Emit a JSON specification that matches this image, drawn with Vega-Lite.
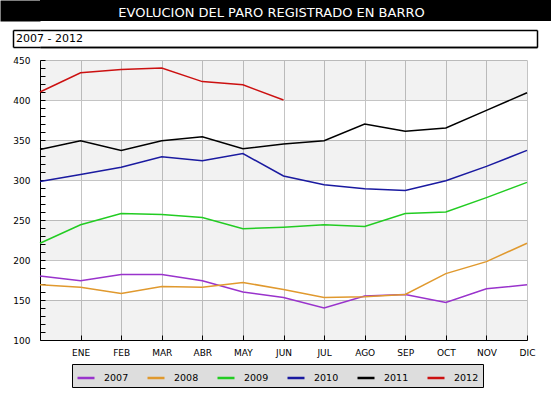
{
  "$schema": "https://vega.github.io/schema/vega-lite/v6.json",
  "background": "white",
  "padding": 0,
  "config": {"font": "DejaVu Sans", "view": {"stroke": null}},
  "datasets": {
    "bands": [{"lo": 400, "hi": 450}, {"lo": 300, "hi": 350}, {"lo": 200, "hi": 250}, {"lo": 100, "hi": 150}],
    "series": [
      {"year": "2007", "m": 0, "v": 180}, {"year": "2007", "m": 1, "v": 174}, {"year": "2007", "m": 2, "v": 182}, {"year": "2007", "m": 3, "v": 182}, {"year": "2007", "m": 4, "v": 174}, {"year": "2007", "m": 5, "v": 160}, {"year": "2007", "m": 6, "v": 153}, {"year": "2007", "m": 7, "v": 140}, {"year": "2007", "m": 8, "v": 155}, {"year": "2007", "m": 9, "v": 157}, {"year": "2007", "m": 10, "v": 147}, {"year": "2007", "m": 11, "v": 164}, {"year": "2007", "m": 12, "v": 169},
      {"year": "2008", "m": 0, "v": 169}, {"year": "2008", "m": 1, "v": 166}, {"year": "2008", "m": 2, "v": 158}, {"year": "2008", "m": 3, "v": 167}, {"year": "2008", "m": 4, "v": 166}, {"year": "2008", "m": 5, "v": 172}, {"year": "2008", "m": 6, "v": 163}, {"year": "2008", "m": 7, "v": 153}, {"year": "2008", "m": 8, "v": 154}, {"year": "2008", "m": 9, "v": 157}, {"year": "2008", "m": 10, "v": 183}, {"year": "2008", "m": 11, "v": 198}, {"year": "2008", "m": 12, "v": 221},
      {"year": "2009", "m": 0, "v": 221}, {"year": "2009", "m": 1, "v": 244}, {"year": "2009", "m": 2, "v": 258}, {"year": "2009", "m": 3, "v": 257}, {"year": "2009", "m": 4, "v": 253}, {"year": "2009", "m": 5, "v": 239}, {"year": "2009", "m": 6, "v": 241}, {"year": "2009", "m": 7, "v": 244}, {"year": "2009", "m": 8, "v": 242}, {"year": "2009", "m": 9, "v": 258}, {"year": "2009", "m": 10, "v": 260}, {"year": "2009", "m": 11, "v": 278}, {"year": "2009", "m": 12, "v": 297},
      {"year": "2010", "m": 0, "v": 298}, {"year": "2010", "m": 1, "v": 307}, {"year": "2010", "m": 2, "v": 316}, {"year": "2010", "m": 3, "v": 329}, {"year": "2010", "m": 4, "v": 324}, {"year": "2010", "m": 5, "v": 333}, {"year": "2010", "m": 6, "v": 305}, {"year": "2010", "m": 7, "v": 294}, {"year": "2010", "m": 8, "v": 289}, {"year": "2010", "m": 9, "v": 287}, {"year": "2010", "m": 10, "v": 299}, {"year": "2010", "m": 11, "v": 317}, {"year": "2010", "m": 12, "v": 337},
      {"year": "2011", "m": 0, "v": 338}, {"year": "2011", "m": 1, "v": 349}, {"year": "2011", "m": 2, "v": 337}, {"year": "2011", "m": 3, "v": 349}, {"year": "2011", "m": 4, "v": 354}, {"year": "2011", "m": 5, "v": 339}, {"year": "2011", "m": 6, "v": 345}, {"year": "2011", "m": 7, "v": 349}, {"year": "2011", "m": 8, "v": 370}, {"year": "2011", "m": 9, "v": 361}, {"year": "2011", "m": 10, "v": 365}, {"year": "2011", "m": 11, "v": 387}, {"year": "2011", "m": 12, "v": 409},
      {"year": "2012", "m": 0, "v": 410}, {"year": "2012", "m": 1, "v": 434}, {"year": "2012", "m": 2, "v": 438}, {"year": "2012", "m": 3, "v": 440}, {"year": "2012", "m": 4, "v": 423}, {"year": "2012", "m": 5, "v": 419}, {"year": "2012", "m": 6, "v": 400}
    ]
  },
  "spacing": 8,
  "vconcat": [
    {
      "width": 511,
      "height": 21,
      "view": {"fill": "black", "stroke": null},
      "data": {"values": [{"t": "EVOLUCION DEL PARO REGISTRADO EN BARRO"}]},
      "mark": {"type": "text", "color": "white", "fontSize": 13, "align": "center", "baseline": "middle", "dy": 2, "dx": -24},
      "encoding": {
        "text": {"field": "t", "type": "nominal"},
        "y": {"datum": 0, "type": "quantitative", "scale": {"domain": [-1, 1]},
              "axis": {"orient": "left", "title": null, "labels": false, "ticks": false, "grid": false, "domain": true, "domainColor": "black", "domainWidth": 40, "offset": 20, "minExtent": 20, "maxExtent": 20}}
      }
    },
    {
      "width": 497,
      "height": 17,
      "view": {"fill": "white", "stroke": null},
      "data": {"values": [{"t": "2007 - 2012"}]},
      "mark": {"type": "text", "color": "black", "fontSize": 11, "align": "left", "baseline": "middle", "dx": -24},
      "encoding": {
        "text": {"field": "t", "type": "nominal"},
        "x": {"datum": 0, "type": "quantitative", "scale": {"domain": [0, 1]},
              "axis": {"orient": "bottom", "title": null, "values": [1], "labels": false, "ticks": false, "grid": true, "gridColor": "black", "gridWidth": 1.5, "gridOpacity": 1, "domain": true, "domainColor": "black", "domainWidth": 1.5}},
        "y": {"datum": 0, "type": "quantitative", "scale": {"domain": [-1, 1]},
              "axis": {"orient": "left", "title": null, "values": [-1, 1], "labels": false, "ticks": true, "tickSize": -27, "tickColor": "black", "tickWidth": 1.5, "grid": true, "gridColor": "black", "gridWidth": 1.5, "gridOpacity": 1, "domain": true, "domainColor": "black", "domainWidth": 1.5, "offset": 27, "minExtent": 1, "maxExtent": 1}}
      }
    },
    {
      "width": 487,
      "height": 280,
      "layer": [
        {
          "data": {"name": "bands"},
          "mark": {"type": "rect", "color": "black", "opacity": 0.05},
          "encoding": {
            "y": {
              "field": "lo", "type": "quantitative",
              "scale": {"domain": [100, 450], "nice": false, "zero": false},
              "axis": {
                "title": null,
                "values": [100, 110, 120, 130, 140, 150, 160, 170, 180, 190, 200, 210, 220, 230, 240, 250, 260, 270, 280, 290, 300, 310, 320, 330, 340, 350, 360, 370, 380, 390, 400, 410, 420, 430, 440, 450],
                "labelExpr": "datum.value % 50 === 0 ? datum.label : ''",
                "labelOverlap": false,
                "labelFlush": false,
                "labelFontSize": 9,
                "labelColor": "black",
                "labelPadding": 15,
                "tickSize": -5,
                "tickColor": "black",
                "domainColor": "black",
                "minExtent": 40,
                "maxExtent": 40,
                "grid": true,
                "gridColor": {"condition": {"test": "datum.value % 50 === 0", "value": "#c4c4c4"}, "value": "transparent"}
              }
            },
            "y2": {"field": "hi"}
          }
        },
        {
          "data": {"name": "series"},
          "mark": {"type": "line", "strokeWidth": 1.5},
          "encoding": {
            "x": {
              "field": "m", "type": "quantitative",
              "scale": {"domain": [0, 12], "nice": false, "zero": false},
              "axis": {
                "title": null,
                "values": [1, 2, 3, 4, 5, 6, 7, 8, 9, 10, 11, 12],
                "labelExpr": "['','ENE','FEB','MAR','ABR','MAY','JUN','JUL','AGO','SEP','OCT','NOV','DIC'][datum.value]",
                "labelFlush": false,
                "labelOverlap": false,
                "labelFontSize": 9,
                "labelColor": "black",
                "labelPadding": 13,
                "tickSize": -5,
                "tickColor": "black",
                "domainColor": "black",
                "grid": true,
                "gridColor": "#c4c4c4"
              }
            },
            "y": {
              "field": "v", "type": "quantitative",
              "scale": {"domain": [100, 450], "nice": false, "zero": false},
              "axis": {
                "title": null,
                "values": [100, 110, 120, 130, 140, 150, 160, 170, 180, 190, 200, 210, 220, 230, 240, 250, 260, 270, 280, 290, 300, 310, 320, 330, 340, 350, 360, 370, 380, 390, 400, 410, 420, 430, 440, 450],
                "labelExpr": "datum.value % 50 === 0 ? datum.label : ''",
                "labelOverlap": false,
                "labelFlush": false,
                "labelFontSize": 9,
                "labelColor": "black",
                "labelPadding": 15,
                "tickSize": -5,
                "tickColor": "black",
                "domainColor": "black",
                "minExtent": 40,
                "maxExtent": 40,
                "grid": true,
                "gridColor": {"condition": {"test": "datum.value % 50 === 0", "value": "#c4c4c4"}, "value": "transparent"}
              }
            },
            "color": {
              "field": "year", "type": "nominal",
              "scale": {"domain": ["2007", "2008", "2009", "2010", "2011", "2012"], "range": ["#9933cc", "#e0992e", "#22cc22", "#1a1aa0", "#000000", "#cc1111"]},
              "legend": {
                "title": null,
                "orient": "none",
                "legendX": 32,
                "legendY": 364,
                "direction": "horizontal",
                "columns": 6,
                "fillColor": "#dddddd",
                "strokeColor": "black",
                "padding": 4,
                "symbolType": "stroke",
                "symbolSize": 289,
                "symbolStrokeWidth": 2.5,
                "labelFontSize": 9.5,
                "labelColor": "black",
                "labelOffset": 8,
                "columnPadding": 13
              }
            }
          }
        }
      ]
    }
  ]
}
